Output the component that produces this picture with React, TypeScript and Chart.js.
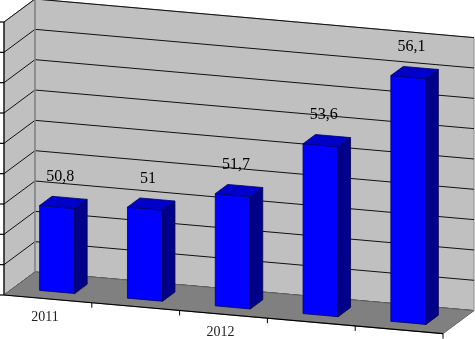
import React, { useEffect, useRef } from "react";
import { Chart, registerables } from "chart.js";

Chart.register(...registerables);

// ---- data ----
const categories = ["2011", "", "2012", "", ""];
const values = [50.8, 51, 51.7, 53.6, 56.1];
const valueLabels = ["50,8", "51", "51,7", "53,6", "56,1"];
const yMin = 48;
const yMax = 57;
const yStep = 1;

// ---- 3D projection settings ----
const SHEAR = 0.088;
const DEPTH_X = 31;
const DEPTH_Y = -23;
const BAR_D0 = 0.3;
const BAR_D1 = 0.7;

type Pt = [number, number];

function projector(chart: any) {
  const left = chart.chartArea.left;
  return (x: number, y: number, d: number): Pt => [
    x + d * DEPTH_X,
    y + SHEAR * (x - left) + d * DEPTH_Y,
  ];
}

function poly(ctx: CanvasRenderingContext2D, pts: Pt[], fill: string, stroke?: string, lw = 1) {
  ctx.beginPath();
  ctx.moveTo(pts[0][0], pts[0][1]);
  for (let i = 1; i < pts.length; i++) ctx.lineTo(pts[i][0], pts[i][1]);
  ctx.closePath();
  ctx.fillStyle = fill;
  ctx.fill();
  if (stroke) {
    ctx.strokeStyle = stroke;
    ctx.lineWidth = lw;
    ctx.stroke();
  }
}

function line(ctx: CanvasRenderingContext2D, a: Pt, b: Pt, color: string, lw = 1) {
  ctx.beginPath();
  ctx.moveTo(a[0], a[1]);
  ctx.lineTo(b[0], b[1]);
  ctx.strokeStyle = color;
  ctx.lineWidth = lw;
  ctx.stroke();
}

const threeD = {
  id: "threeD",
  beforeDatasetsDraw(chart: any) {
    const ctx: CanvasRenderingContext2D = chart.ctx;
    const P = projector(chart);
    const { left, right, top, bottom } = chart.chartArea;
    const ys = chart.scales.y;
    const xs = chart.scales.x;
    ctx.save();
    // left side wall
    poly(ctx, [P(left, top, 0), P(left, top, 1), P(left, bottom, 1), P(left, bottom, 0)], "#c0c0c0", "#8a8a8a");
    // back wall
    poly(ctx, [P(left, top, 1), P(right, top, 1), P(right, bottom, 1), P(left, bottom, 1)], "#c0c0c0", "#8a8a8a");
    // gridlines
    for (let v = yMin; v <= yMax + 1e-9; v += yStep) {
      const yp = ys.getPixelForValue(v);
      line(ctx, P(left, yp, 0), P(left, yp, 1), "#111", 1);
      line(ctx, P(left, yp, 1), P(right, yp, 1), "#111", 1);
    }
    // edge between walls
    line(ctx, P(left, top, 1), P(left, bottom, 1), "#8a8a8a", 1.5);
    // floor
    poly(ctx, [P(left, bottom, 0), P(right, bottom, 0), P(right, bottom, 1), P(left, bottom, 1)], "#808080", "#6a6a6a");
    // y axis line + ticks
    line(ctx, [left, top], [left, bottom], "#000", 1.2);
    for (let v = yMin; v <= yMax + 1e-9; v += yStep) {
      const yp = ys.getPixelForValue(v);
      line(ctx, [left - 4, yp], [left, yp], "#000", 1.2);
    }
    // x axis line + ticks at category boundaries
    line(ctx, P(left, bottom, 0), P(right, bottom, 0), "#000", 1.2);
    const n = categories.length;
    for (let i = 1; i <= n; i++) {
      const xb = (xs.getPixelForValue(i - 1) + xs.getPixelForValue(Math.min(i, n - 1))) / 2;
      const xe = i === n ? right : xb;
      const p = P(xe, bottom, 0);
      line(ctx, p, [p[0], p[1] + 5], "#000", 1);
    }
    // category labels
    ctx.fillStyle = "#222";
    ctx.font = "14px 'Liberation Serif', 'Times New Roman', serif";
    ctx.textAlign = "center";
    ctx.textBaseline = "middle";
    categories.forEach((c, i) => {
      if (!c) return;
      const p = P(xs.getPixelForValue(i), bottom, 0);
      ctx.fillText(c, p[0] - 3, p[1] + 18);
    });
    ctx.restore();
  },
  afterDatasetsDraw(chart: any) {
    const ctx: CanvasRenderingContext2D = chart.ctx;
    const P = projector(chart);
    const meta = chart.getDatasetMeta(0);
    const base = chart.scales.y.getPixelForValue(yMin);
    ctx.save();
    ctx.lineJoin = "round";
    meta.data.forEach((el: any, i: number) => {
      const { x, y, width } = el.getProps(["x", "y", "width"], true);
      const x1 = x - width / 2;
      const x2 = x + width / 2;
      // front face
      poly(ctx, [P(x1, y, BAR_D0), P(x2, y, BAR_D0), P(x2, base, BAR_D0), P(x1, base, BAR_D0)], "#0000ff", "#00006a", 0.8);
      // side face
      poly(ctx, [P(x2, y, BAR_D0), P(x2, y, BAR_D1), P(x2, base, BAR_D1), P(x2, base, BAR_D0)], "#00008a", "#00004a", 0.8);
      // top face
      poly(ctx, [P(x1, y, BAR_D0), P(x2, y, BAR_D0), P(x2, y, BAR_D1), P(x1, y, BAR_D1)], "#0000c8", "#00006a", 0.8);
      // value label
      const lp = P(x, y, 0.4);
      ctx.fillStyle = "#000";
      ctx.font = "16px 'Liberation Serif', 'Times New Roman', serif";
      ctx.textAlign = "center";
      ctx.textBaseline = "middle";
      ctx.fillText(valueLabels[i], lp[0], lp[1] - 28);
    });
    ctx.restore();
  },
};

export default function App() {
  const ref = useRef<HTMLCanvasElement | null>(null);
  useEffect(() => {
    if (!ref.current) return;
    const chart = new Chart(ref.current, {
      type: "bar",
      data: {
        labels: categories,
        datasets: [
          {
            data: values,
            backgroundColor: "rgba(0,0,0,0)",
            borderWidth: 0,
            barPercentage: 0.4,
            categoryPercentage: 1,
          },
        ],
      },
      options: {
        animation: false,
        responsive: true,
        maintainAspectRatio: false,
        layout: { padding: { left: 4, top: 22, right: 32, bottom: 44 } },
        plugins: { legend: { display: false }, tooltip: { enabled: false } },
        scales: {
          x: { display: false },
          y: { display: false, min: yMin, max: yMax, ticks: { stepSize: yStep } },
        },
      },
      plugins: [threeD],
    });
    return () => chart.destroy();
  }, []);
  return (
    <div style={{ position: "absolute", left: 0, top: 0, width: 475, height: 339, background: "#fff" }}>
      <canvas ref={ref} />
    </div>
  );
}
